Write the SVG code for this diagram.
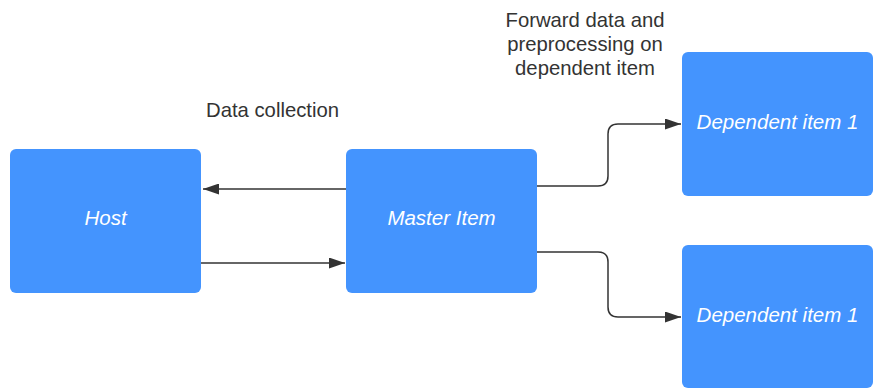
<svg xmlns="http://www.w3.org/2000/svg" width="875" height="389" viewBox="0 0 875 389">
<style>
.box{fill:#4494fe;}
.lbl{font-family:"Liberation Sans",Arial,sans-serif;font-size:20.5px;font-style:italic;fill:#ffffff;text-anchor:middle;}
.note{font-family:"Liberation Sans",Arial,sans-serif;font-size:20.3px;fill:#333333;}
.edge{fill:none;stroke:#333333;stroke-width:1.5;}
</style>
<defs>
<marker id="arr" viewBox="0 0 16 11" refX="16" refY="5.5" markerWidth="16" markerHeight="11" markerUnits="userSpaceOnUse" orient="auto">
<path d="M0,0 L16,5.5 L0,11 Z" fill="#333333"/>
</marker>
</defs>
<rect width="875" height="389" fill="#ffffff"/>
<g id="host"><rect class="box" x="10" y="149" width="191" height="144" rx="6"/><text class="lbl" x="105.5" y="225">Host</text></g>
<g id="master"><rect class="box" x="346" y="149" width="191" height="144" rx="6"/><text class="lbl" x="441.5" y="225">Master Item</text></g>
<g id="dep1"><rect class="box" x="682" y="52" width="191" height="144" rx="6"/><text class="lbl" x="777.5" y="129">Dependent item 1</text></g>
<g id="dep2"><rect class="box" x="682" y="245" width="191" height="143" rx="6"/><text class="lbl" x="777.5" y="322">Dependent item 1</text></g>
<g id="connectors">
<path class="edge" d="M346,189 L203,189" marker-end="url(#arr)"/>
<path class="edge" d="M201,263 L345,263" marker-end="url(#arr)"/>
<path class="edge" d="M537,186 L598,186 Q608,186 608,176 L608,134 Q608,124 618,124 L681,124" marker-end="url(#arr)"/>
<path class="edge" d="M537,252 L598,252 Q608,252 608,262 L608,307 Q608,317 618,317 L681,317" marker-end="url(#arr)"/>
</g>
<g id="labels">
<text class="note" x="206" y="117">Data collection</text>
<text class="note" text-anchor="middle"><tspan x="585" y="27">Forward data and</tspan><tspan x="585" y="51">preprocessing on</tspan><tspan x="585" y="75">dependent item</tspan></text>
</g>
</svg>
